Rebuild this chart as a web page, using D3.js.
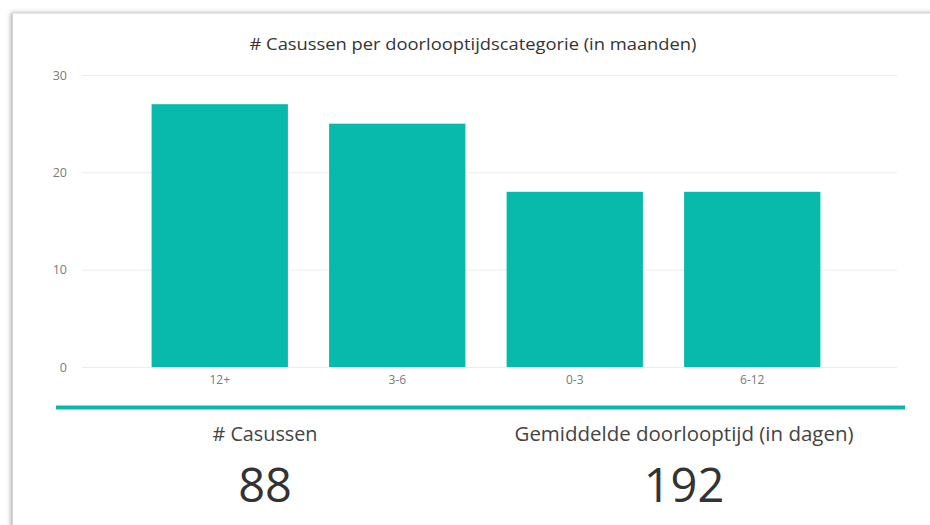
<!DOCTYPE html>
<html>
<head>
<meta charset="utf-8">
<script src="https://cdn.jsdelivr.net/npm/d3@7"></script>
<style>
html,body{margin:0;padding:0;background:#fff;}
svg{display:block;}
text{font-family:"Open Sans","Segoe UI",sans-serif;}
</style>
</head>
<body>
<script>
const categories = ["12+", "3-6", "0-3", "6-12"];
const values = [27, 25, 18, 18];
const yTicks = [0, 10, 20, 30];
const chartTitle = "# Casussen per doorlooptijdscategorie (in maanden)";
const kpiLabels = ["# Casussen", "Gemiddelde doorlooptijd (in dagen)"];
const kpiValues = [88, 192];

const W = 930, H = 525;
const svg = d3.select("body").append("svg").attr("width", W).attr("height", H);

const defs = svg.append("defs");
const f = defs.append("filter").attr("id","sh").attr("x","-5%").attr("y","-5%").attr("width","110%").attr("height","110%");
f.append("feGaussianBlur").attr("in","SourceAlpha").attr("stdDeviation",2.5).attr("result","b");
f.append("feOffset").attr("in","b").attr("dx",-1).attr("dy",0).attr("result","o");
f.append("feComponentTransfer").attr("in","o").attr("result","o2").append("feFuncA").attr("type","linear").attr("slope",0.35);
const m = f.append("feMerge"); m.append("feMergeNode").attr("in","o2"); m.append("feMergeNode").attr("in","SourceGraphic");

// card
svg.append("rect").attr("x",12).attr("y",13).attr("width",940).attr("height",540)
  .attr("fill","#fff").attr("filter","url(#sh)");
svg.append("line").attr("x1",12).attr("x2",12).attr("y1",13).attr("y2",H).attr("stroke","#c8c8c8").attr("stroke-width",1.5);
svg.append("line").attr("x1",12).attr("x2",W).attr("y1",13.5).attr("y2",13.5).attr("stroke","#e6e6e6").attr("stroke-width",1);

// fit text width helper
function fit(sel, w){
  sel.each(function(){
    const t = d3.select(this);
    const len = this.getComputedTextLength();
    if (len > 0) t.attr("textLength", w).attr("lengthAdjust","spacingAndGlyphs");
  });
}

// title
svg.append("text").attr("x",473).attr("y",50).attr("text-anchor","middle")
  .attr("font-size",16.5).attr("fill","#333").text(chartTitle).call(fit, 447);

const y = d3.scaleLinear().domain([0,30]).range([367,75]);
const x = d3.scaleBand().domain(categories).range([131,841]).paddingInner(0.232).paddingOuter(0.116);

// gridlines + y labels
const yAxis = d3.axisLeft(y).tickValues(yTicks).tickSize(-(897-82)).tickPadding(15).tickFormat(d3.format("d"));
const gy = svg.append("g").attr("transform","translate(82,0)").call(yAxis);
gy.select(".domain").remove();
gy.selectAll(".tick line").attr("stroke","#ececec").attr("stroke-width",1);
gy.selectAll(".tick text").attr("fill","#7a7a7a").attr("font-size",12.5).attr("font-family","'Open Sans',sans-serif");

// bars
svg.append("g").selectAll("rect").data(values).join("rect")
  .attr("x",(d,i)=>x(categories[i])).attr("width",x.bandwidth())
  .attr("y",d=>y(d)).attr("height",d=>y(0)-y(d))
  .attr("fill","#07baab");

// x axis labels
const xAxis = d3.axisBottom(x).tickSize(0).tickPadding(8);
const gx = svg.append("g").attr("transform","translate(0,367)").call(xAxis);
gx.select(".domain").remove();
gx.selectAll(".tick text").attr("fill","#7a7a7a").attr("font-size",12).attr("font-family","'Open Sans',sans-serif");

// teal separator
svg.append("line").attr("x1",56).attr("x2",905).attr("y1",407.5).attr("y2",407.5)
  .attr("stroke","#0ab7a8").attr("stroke-width",4);

// KPIs
const kx = [265, 684];
const kw = [105, 339];
svg.append("g").selectAll("text").data(kpiLabels).join("text")
  .attr("x",(d,i)=>kx[i]).attr("y",441).attr("text-anchor","middle")
  .attr("font-size",20).attr("fill","#444").text(d=>d)
  .each(function(d,i){ d3.select(this).call(fit, kw[i]); });
svg.append("g").selectAll("text").data(kpiValues).join("text")
  .attr("x",(d,i)=>kx[i]).attr("y",502).attr("text-anchor","middle")
  .attr("font-size",47).attr("fill","#333").text(d=>d);
</script>
</body>
</html>
